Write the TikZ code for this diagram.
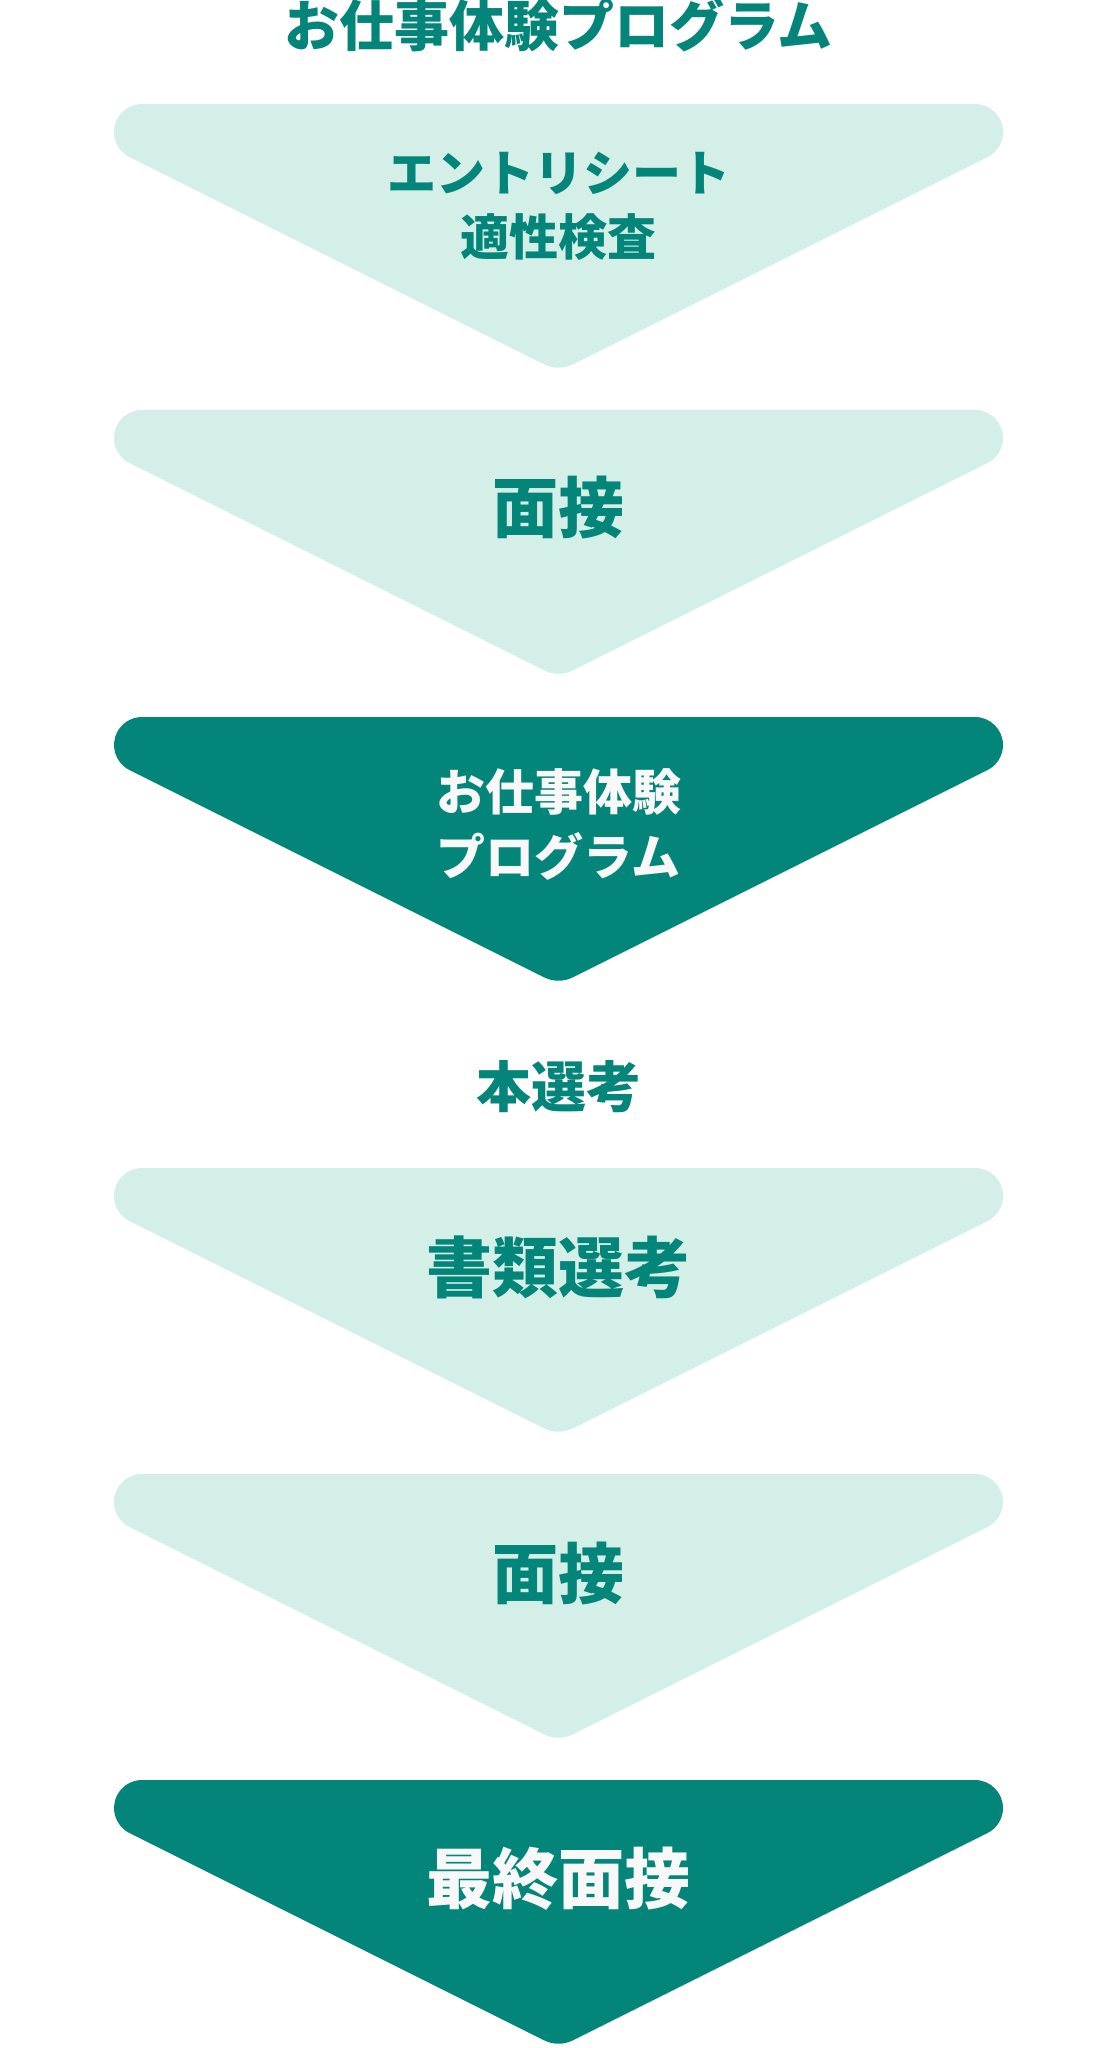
\documentclass[tikz,border=0pt]{standalone}
\usepackage{fontspec}
\newfontfamily\jpfont{Noto Sans CJK JP}
\definecolor{mint}{HTML}{D3EFE7}
\definecolor{deepteal}{HTML}{03857A}
\definecolor{offwhite}{HTML}{F8F8F8}

\begin{document}
\begin{tikzpicture}
[x=1pt,y=-1pt,
  stepLight/.style={fill=mint},
  stepDark/.style={fill=deepteal},
  headLabel/.style={text=deepteal,font=\jpfont\bfseries\fontsize{55}{62}\selectfont},
  lightLabel/.style={text=deepteal,align=center,font=\jpfont\bfseries\fontsize{49}{64}\selectfont},
  darkLabel/.style={text=offwhite,align=center,font=\jpfont\bfseries\fontsize{49}{65}\selectfont},
  bigLight/.style={text=deepteal,font=\jpfont\bfseries\fontsize{66}{74}\selectfont},
  bigDark/.style={text=offwhite,font=\jpfont\bfseries\fontsize{66}{74}\selectfont}]
\useasboundingbox (0,0) rectangle (1117,2048);
%% chevrons
\foreach \ytop/\kind in {
  104/stepLight, 410/stepLight, 717/stepDark,
  1168/stepLight, 1474/stepLight, 1780/stepDark}
{
  \fill[\kind] (142,\ytop) -- (975,\ytop) arc (-90:63.43:28)
    -- (572.81,\ytop+260.34) arc (63.43:116.57:32)
    -- (129.5,\ytop+53.04) arc (116.57:270:28) -- cycle;
}
%% labels
\node (programHead) at (558.5,25) [headLabel] {お仕事体験プログラム};
\node (entryStep) at (558.5,206) [lightLabel] {エントリシート\\適性検査};
\node (interviewA) at (558.5,508) [bigLight] {面接};
\node (programStep) at (558.5,824) [darkLabel] {お仕事体験\\プログラム};
\node (mainHead) at (558.5,1087) [headLabel] {本選考};
\node (documentStep) at (558.5,1267) [bigLight] {書類選考};
\node (interviewB) at (558.5,1573) [bigLight] {面接};
\node (finalStep) at (558.5,1879) [bigDark] {最終面接};
\end{tikzpicture}
\end{document}
